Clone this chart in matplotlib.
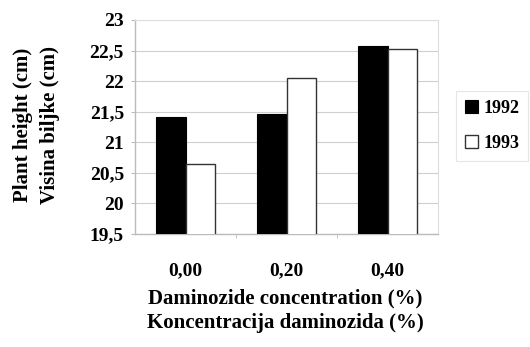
import numpy as np
import matplotlib.pyplot as plt

categories = ['0,00', '0,20', '0,40']
years = ['1992', '1993']
height_1992 = [21.41, 21.46, 22.58]
height_1993 = [20.65, 22.05, 22.52]
y_ticks = [19.5, 20, 20.5, 21, 21.5, 22, 22.5, 23]

plt.rcParams['font.family'] = ['Liberation Serif', 'DejaVu Serif']
plt.rcParams['font.weight'] = 'bold'

fig = plt.figure(figsize=(5.3, 3.47), dpi=100)
ax = fig.add_axes([135 / 530, 1 - 234 / 347, 303 / 530, 214 / 347])

x = np.arange(len(categories))
w = 0.29
ax.bar(x - w / 2, height_1992, w, color='black', edgecolor='black',
       linewidth=0.8, label=years[0], zorder=3)
ax.bar(x + w / 2, height_1993, w, color='white', edgecolor='#333333',
       linewidth=1.0, label=years[1], zorder=3)

ax.set_xlim(-0.5, 2.5)
ax.set_ylim(19.5, 23)
ax.set_yticks(y_ticks)
ax.set_yticklabels([f'{v:g}'.replace('.', ',') for v in y_ticks])
ax.set_xticks(x)
ax.set_xticklabels(categories)
ax.set_xticks([0.5, 1.5], minor=True)
ax.tick_params(axis='x', which='major', length=0, pad=20, labelsize=14)
ax.tick_params(axis='x', which='minor', length=3, color='#bbbbbb')
ax.tick_params(axis='y', length=3, color='#bbbbbb', pad=5, labelsize=14)

ax.grid(axis='y', color='#cfcfcf', linewidth=0.8, zorder=0)
for s in ['top', 'right']:
    ax.spines[s].set_color('#dddddd')
for s in ['left', 'bottom']:
    ax.spines[s].set_color('#bbbbbb')
    ax.spines[s].set_linewidth(1.0)

fig.text(23 / 530, 1 - 125 / 347, 'Plant height (cm)', rotation=90,
         ha='center', va='center', fontsize=15, fontweight='bold')
fig.text(50 / 530, 1 - 125 / 347, 'Visina biljke (cm)', rotation=90,
         ha='center', va='center', fontsize=15, fontweight='bold')
fig.text(285 / 530, 1 - 298 / 347, 'Daminozide concentration (%)',
         ha='center', va='center', fontsize=15, fontweight='bold')
fig.text(285 / 530, 1 - 323 / 347, 'Koncentracija daminozida (%)',
         ha='center', va='center', fontsize=15, fontweight='bold')

leg = fig.legend(loc='upper left', bbox_to_anchor=(456 / 530, 1 - 91 / 347),
                 frameon=True, fancybox=False, edgecolor='#e0e0e0',
                 handlelength=0.7, handleheight=0.7, handletextpad=0.3,
                 labelspacing=1.0, borderpad=0.5, borderaxespad=0,
                 fontsize=13)
leg.get_frame().set_linewidth(0.8)

fig.savefig('out.png', dpi=100)
